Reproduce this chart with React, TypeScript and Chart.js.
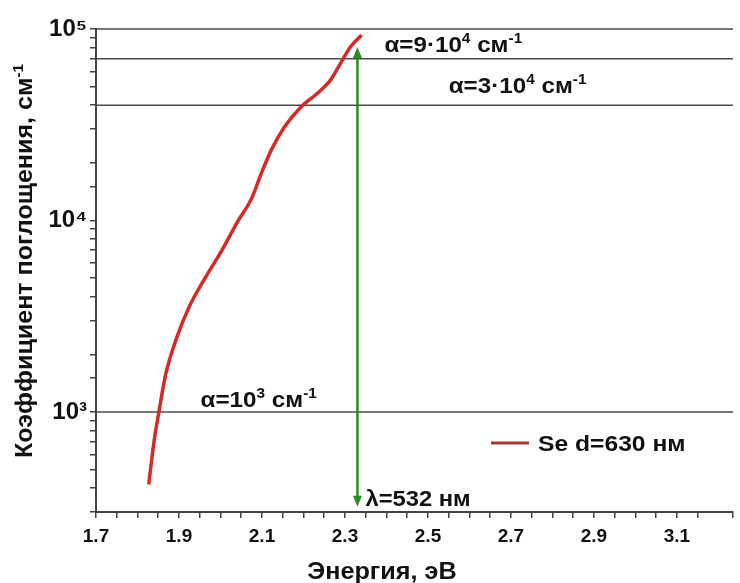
import React, { useEffect, useRef } from 'react';
import { Chart, registerables } from 'chart.js';
Chart.register(...registerables);

// ---- data ----
const energyEV = [1.827, 1.840, 1.852, 1.868, 1.892, 1.924, 1.964, 2.003, 2.043, 2.075, 2.098, 2.122, 2.154, 2.194, 2.233, 2.265, 2.289, 2.313, 2.340];
const absorption = [418, 705, 1012, 1574, 2355, 3516, 5048, 6966, 10000, 13040, 17540, 23230, 30770, 39170, 46030, 54050, 66000, 80500, 93080];
const seriesLabel = 'Se d=630 нм';
const xTickLabels = ['1.7', '1.9', '2.1', '2.3', '2.5', '2.7', '2.9', '3.1'];
const yTickLabels: Record<number, string> = { 1000: '10³', 10000: '10⁴', 100000: '10⁵' };
const refLevels = [100000, 70000, 40000, 1000];
const laserEnergy = 2.33;
const arrowRange = [80500, 320];
const xRange = [1.7, 3.235];
const yRange = [300, 100000];

const FONT = "'Liberation Sans', Arial, sans-serif";
type Part = [string, boolean];

function measureRich(ctx: CanvasRenderingContext2D, parts: Part[], size: number) {
  let w = 0;
  for (const [t, sup] of parts) {
    const fs = sup ? Math.round(size * 0.62) : size;
    ctx.font = `bold ${fs}px ${FONT}`;
    w += ctx.measureText(t).width;
  }
  return w;
}

function drawRich(ctx: CanvasRenderingContext2D, x: number, y: number, parts: Part[], size: number, sx = 1) {
  ctx.save();
  ctx.translate(x, y);
  ctx.scale(sx, 1);
  ctx.textBaseline = 'alphabetic';
  ctx.textAlign = 'left';
  let cx = 0;
  for (const [t, sup] of parts) {
    const fs = sup ? Math.round(size * 0.62) : size;
    ctx.font = `bold ${fs}px ${FONT}`;
    ctx.fillText(t, cx, sup ? -size * 0.4 : 0);
    cx += ctx.measureText(t).width;
  }
  ctx.restore();
}

const overlay = {
  id: 'overlay',
  beforeDatasetsDraw(chart: any) {
    const { ctx, chartArea, scales } = chart;
    const y = scales.y;
    ctx.save();
    ctx.strokeStyle = '#4a4a4a';
    ctx.lineWidth = 1.5;
    refLevels.forEach((v) => {
      const py = y.getPixelForValue(v);
      ctx.beginPath();
      ctx.moveTo(chartArea.left, py);
      ctx.lineTo(chartArea.right, py);
      ctx.stroke();
    });
    ctx.restore();
  },
  afterDatasetsDraw(chart: any) {
    const { ctx, scales } = chart;
    const x = scales.x;
    const y = scales.y;
    ctx.save();
    // green double arrow
    const ax = x.getPixelForValue(laserEnergy);
    const top = y.getPixelForValue(arrowRange[0]);
    const bot = y.getPixelForValue(arrowRange[1]);
    ctx.strokeStyle = '#2b8a2b';
    ctx.fillStyle = '#2b8a2b';
    ctx.lineWidth = 2.5;
    ctx.beginPath();
    ctx.moveTo(ax, top + 8);
    ctx.lineTo(ax, bot - 8);
    ctx.stroke();
    ctx.beginPath();
    ctx.moveTo(ax, top);
    ctx.lineTo(ax - 4.5, top + 11);
    ctx.lineTo(ax + 4.5, top + 11);
    ctx.closePath();
    ctx.fill();
    ctx.beginPath();
    ctx.moveTo(ax, bot);
    ctx.lineTo(ax - 4.5, bot - 11);
    ctx.lineTo(ax + 4.5, bot - 11);
    ctx.closePath();
    ctx.fill();

    ctx.fillStyle = '#111';
    // annotation labels
    drawRich(ctx, x.getPixelForValue(2.395), y.getPixelForValue(70000) - 7,
      [['α=9·10', false], ['4', true], [' см', false], ['-1', true]], 22, 1.1);
    drawRich(ctx, x.getPixelForValue(2.55), y.getPixelForValue(40000) - 12,
      [['α=3·10', false], ['4', true], [' см', false], ['-1', true]], 22, 1.1);
    drawRich(ctx, x.getPixelForValue(1.952), y.getPixelForValue(1000) - 5,
      [['α=10', false], ['3', true], [' см', false], ['-1', true]], 22, 1.1);
    drawRich(ctx, ax + 8, bot - 1, [['λ=532 нм', false]], 22, 1.08);

    // legend
    const lx = 491, ly = 443;
    ctx.strokeStyle = '#a83434';
    ctx.lineWidth = 3;
    ctx.beginPath();
    ctx.moveTo(lx, ly);
    ctx.lineTo(lx + 38, ly);
    ctx.stroke();
    ctx.fillStyle = '#111';
    drawRich(ctx, lx + 47, ly + 8, [[seriesLabel, false]], 22, 1.12);

    // axis titles
    const xt: Part[] = [['Энергия, эВ', false]];
    const xtW = measureRich(ctx, xt, 24) * 1.05;
    drawRich(ctx, 382 - xtW / 2, 579, xt, 24, 1.05);

    const yt: Part[] = [['Коэффициент поглощения, см', false], ['-1', true]];
    const ytW = measureRich(ctx, yt, 23) * 1.09;
    ctx.save();
    ctx.translate(32, 261);
    ctx.rotate(-Math.PI / 2);
    drawRich(ctx, -ytW / 2, 0, yt, 23, 1.09);
    ctx.restore();

    ctx.restore();
  },
};

export default function App() {
  const ref = useRef<HTMLCanvasElement>(null);
  useEffect(() => {
    document.body.style.margin = '0';
    const chart = new Chart(ref.current!, {
      type: 'line',
      data: {
        datasets: [
          {
            label: seriesLabel,
            data: energyEV.map((e, i) => ({ x: e, y: absorption[i] })),
            borderColor: '#d42a2a',
            borderWidth: 3.5,
            pointRadius: 0,
            cubicInterpolationMode: 'monotone',
            fill: false,
          },
        ],
      },
      options: {
        responsive: false,
        animation: false,
        layout: { padding: { top: 29, right: 0, left: 0, bottom: 0 } },
        plugins: { legend: { display: false }, tooltip: { enabled: false } },
        scales: {
          x: {
            type: 'linear',
            min: xRange[0],
            max: xRange[1],
            afterFit: (s: any) => {
              s.height = 71;
            },
            border: { color: '#444', width: 2 },
            grid: { drawOnChartArea: false, tickLength: 6, color: '#444', lineWidth: 1.5 },
            ticks: {
              stepSize: 0.05,
              autoSkip: false,
              maxRotation: 0,
              padding: 7,
              color: '#111',
              font: { family: FONT, size: 19, weight: 'bold' },
              callback: (v: any) => {
                const n = Number(v);
                const s = n.toFixed(1);
                return xTickLabels.includes(s) && Math.abs(n - Number(s)) < 1e-6 ? s : '';
              },
            },
          },
          y: {
            type: 'logarithmic',
            min: yRange[0],
            max: yRange[1],
            afterFit: (s: any) => {
              s.width = 96;
            },
            border: { color: '#444', width: 2 },
            grid: { drawOnChartArea: false, tickLength: 6, color: '#444', lineWidth: 1.5 },
            ticks: {
              autoSkip: false,
              padding: 3,
              color: '#111',
              font: { family: FONT, size: 24, weight: 'bold' },
              callback: (v: any) => yTickLabels[Math.round(Number(v))] ?? '',
            },
          },
        },
      } as any,
      plugins: [overlay],
    });
    return () => chart.destroy();
  }, []);
  return (
    <div style={{ width: 740, height: 583 }}>
      <canvas ref={ref} width={740} height={583} style={{ display: 'block' }} />
    </div>
  );
}
